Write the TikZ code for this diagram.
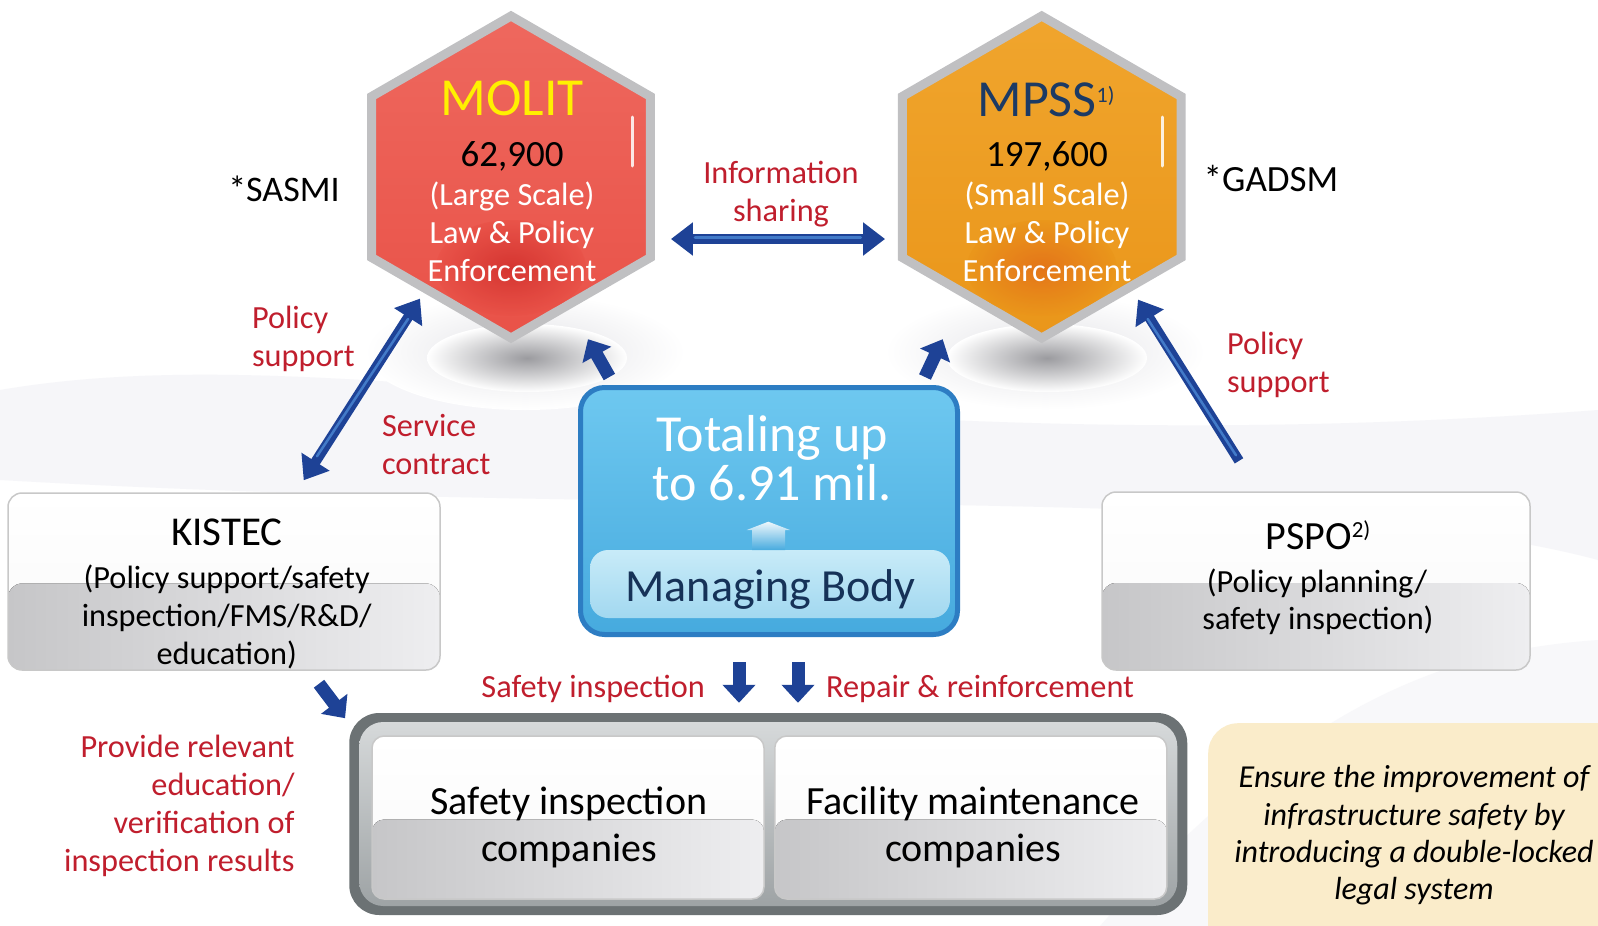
\documentclass[tikz,border=0pt]{standalone}
\usepackage{fontspec}
\setmainfont{Carlito}
\usetikzlibrary{arrows.meta,shapes.geometric,calc}

\definecolor{molitred}{RGB}{233,82,72}
\definecolor{molittop}{RGB}{238,104,94}
\definecolor{molitdark}{RGB}{208,45,42}
\definecolor{mpssorange}{RGB}{234,150,26}
\definecolor{mpsstop}{RGB}{240,165,45}
\definecolor{mpssdark}{RGB}{226,108,24}
\definecolor{hexgray}{RGB}{192,192,194}
\definecolor{molityellow}{RGB}{255,240,0}
\definecolor{mpssnavy}{RGB}{28,58,100}
\definecolor{labelred}{RGB}{192,30,45}
\definecolor{arrowblue}{RGB}{30,66,150}
\definecolor{arrowhl}{RGB}{66,122,200}
\definecolor{shadowgray}{RGB}{155,155,159}
\definecolor{shadowlight}{RGB}{226,226,230}
\definecolor{mbtop}{RGB}{110,200,240}
\definecolor{mbbot}{RGB}{70,170,222}
\definecolor{mbborder}{RGB}{45,125,195}
\definecolor{mbinnertop}{RGB}{200,235,248}
\definecolor{mbinnerbot}{RGB}{162,216,240}
\definecolor{mbnavy}{RGB}{22,50,88}
\definecolor{glassedge}{RGB}{200,200,200}
\definecolor{glassdark}{RGB}{198,198,200}
\definecolor{glasslight}{RGB}{238,238,240}
\definecolor{framedark}{RGB}{108,114,116}
\definecolor{frametop}{RGB}{214,217,218}
\definecolor{framebot}{RGB}{158,163,165}
\definecolor{noteyellow}{RGB}{250,236,202}
\definecolor{bgswoosh}{RGB}{236,236,242}

\pgfdeclareradialshading{hexshadow}{\pgfpoint{0bp}{0bp}}{color(0bp)=(shadowgray); color(25bp)=(white); color(50bp)=(white)}
\pgfdeclareradialshading{hexhalo}{\pgfpoint{0bp}{0bp}}{color(0bp)=(shadowlight); color(25bp)=(white); color(50bp)=(white)}
\pgfdeclareradialshading{redspot}{\pgfpoint{0bp}{0bp}}{color(0bp)=(molitdark); color(25bp)=(molitred); color(50bp)=(molitred)}
\pgfdeclareradialshading{orangespot}{\pgfpoint{0bp}{0bp}}{color(0bp)=(mpssdark); color(25bp)=(mpssorange); color(50bp)=(mpssorange)}

\newcommand\fsz[2]{\fontsize{#1}{#2}\selectfont}

\tikzset{
  txt/.style={anchor=base, inner sep=0pt, outer sep=0pt},
  lbl/.style={txt, text=labelred, font=\fsz{32.3}{38}},
  whitetxt/.style={txt, text=white, font=\fsz{32.3}{38}},
  blacktxt/.style={txt, text=black, font=\fsz{32.3}{38}},
  hexnode/.style={regular polygon, regular polygon sides=6, regular polygon rotate=30,
    minimum size=322pt, inner sep=0pt, draw=hexgray, line width=9pt},
  glass/.style={rectangle, rounded corners=14pt, draw=glassedge, line width=1.5pt,
    top color=white, bottom color=gray!5, inner sep=0pt,
    path picture={\fill[left color=glassdark, right color=glasslight]
      ([yshift=-2pt]path picture bounding box.west) rectangle (path picture bounding box.south east);}},
  bigarrow/.style={arrowblue, line width=10pt, -{Triangle[length=22pt,width=32pt]}},
  dblarrow/.style={arrowblue, line width=10pt, {Triangle[length=22pt,width=32pt]}-{Triangle[length=22pt,width=32pt]}},
  stubarrow/.style={arrowblue, line width=13pt, -{Triangle[length=18pt,width=32pt]}},
  shine/.style={arrowhl, line width=2.5pt, line cap=round},
}

\begin{document}
\begin{tikzpicture}[x=1pt,y=-1pt]
\useasboundingbox (0,0) rectangle (1598,926);
\clip (0,0) rectangle (1598,926);
\fill[white] (0,0) rectangle (1598,926);

% soft background swooshes
\fill[bgswoosh, opacity=0.45] (0,390) .. controls (350,330) and (800,470) .. (1598,410)
  -- (1598,560) .. controls (1300,480) and (700,520) .. (0,480) -- cycle;
\fill[bgswoosh, opacity=0.35] (1100,926) .. controls (1300,700) and (1450,650) .. (1598,640)
  -- (1598,926) -- cycle;

% shadows under hexagons
\shade[shading=hexhalo] (525,352) ellipse [x radius=160, y radius=58];
\shade[shading=hexshadow] (527,358) ellipse [x radius=100, y radius=34];
\shade[shading=hexhalo] (1045,352) ellipse [x radius=160, y radius=58];
\shade[shading=hexshadow] (1047,358) ellipse [x radius=100, y radius=34];

% hexagons
\node[hexnode, top color=molittop, bottom color=molitred] (molit) at (511,177) {};
\shade[shading=redspot, opacity=0.8] (511,268) ellipse [x radius=75, y radius=48];
\draw[white, opacity=0.85, line width=3pt, line cap=round] (632,117) -- (632,166);

\node[hexnode, top color=mpsstop, bottom color=mpssorange] (mpss) at (1041.7,177) {};
\shade[shading=orangespot, opacity=0.8] (1041.7,268) ellipse [x radius=75, y radius=48];
\draw[white, opacity=0.85, line width=3pt, line cap=round] (1162.5,117) -- (1162.5,166);

% hexagon texts
\node[txt, text=molityellow, font=\fsz{53.5}{60}] (molitname) at (512,115) {MOLIT};
\node[txt, font=\fsz{37}{42}] (molitnum) at (512,166.7) {62,900};
\node[whitetxt] (molitscale) at (512,205) {(Large Scale)};
\node[whitetxt] (molitlaw) at (512,243.3) {Law \& Policy};
\node[whitetxt] (molitenf) at (512,281.7) {Enforcement};

\node[txt, text=mpssnavy, font=\fsz{52}{60}] (mpssname) at (1046,116.7)
  {MPSS\raisebox{14pt}{\fsz{22}{24}1)}};
\node[txt, font=\fsz{37}{42}] (mpssnum) at (1047,166.7) {197,600};
\node[whitetxt] (mpssscale) at (1047,205) {(Small Scale)};
\node[whitetxt] (mpsslaw) at (1047,243.3) {Law \& Policy};
\node[whitetxt] (mpssenf) at (1047,281.7) {Enforcement};

\node[txt, font=\fsz{36}{42}] (sasmi) at (284,201.7) {*SASMI};
\node[txt, font=\fsz{37}{42}] (gadsm) at (1271,191.7) {*GADSM};

% information sharing
\node[lbl] (info1) at (781,183) {Information};
\node[lbl] (info2) at (781,221) {sharing};
\draw[dblarrow] ([shift={(16,62)}]molit.east) -- ([shift={(-12.7,62)}]mpss.west);
\draw[shine] ([shift={(40,60.5)}]molit.east) -- ([shift={(-37,60.5)}]mpss.west);

% managing body
\node[rectangle, rounded corners=24pt, draw=mbborder, line width=5pt,
  top color=mbtop, bottom color=mbbot, minimum width=377pt, minimum height=247pt,
  inner sep=0pt] (mb) at (769,511) {};
\node[rectangle, rounded corners=18pt, top color=mbinnertop, bottom color=mbinnerbot,
  minimum width=360pt, minimum height=68pt, inner sep=0pt] (mbinner) at (770,584) {};
\shade[top color=white, bottom color=mbbot, opacity=0.9]
  (768.3,521.7) -- (790,530) -- (785,530) -- (785,550) -- (752,550) -- (752,530) -- (746.7,530) -- cycle;
\node[txt, text=white, font=\fsz{52}{60}] (total1) at (772,451.5) {Totaling up};
\node[txt, text=white, font=\fsz{52}{60}] (total2) at (772,500) {to 6.91 mil.};
\node[txt, text=mbnavy, font=\fsz{46}{50}] (mbname) at (770.7,601.7) {Managing Body};

% small arrows to hexagons
\draw[stubarrow] ([shift={(31.4,-8)}]mb.north west) -- ([shift={(77,-4)}]molit.south);
\draw[stubarrow] ([shift={(-35,-8)}]mb.north east) -- ([shift={(-99,-4)}]mpss.south);

% KISTEC
\node[glass, minimum width=432pt, minimum height=177pt] (kistec) at (224,581.5) {};
\node[txt, font=\fsz{41}{45}] (kistecname) at (227,545) {KISTEC};
\node[blacktxt] (kistec1) at (226.7,588) {(Policy support/safety};
\node[blacktxt] (kistec2) at (226.7,626.5) {inspection/FMS/R\&D/};
\node[blacktxt] (kistec3) at (226.7,664) {education)};

% PSPO
\node[glass, minimum width=428pt, minimum height=178pt] (pspo) at (1316,581) {};
\node[txt, font=\fsz{40}{44}] (psponame) at (1318,549)
  {PSPO\raisebox{12pt}{\fsz{23}{24}2)}};
\node[blacktxt] (pspo1) at (1317,592) {(Policy planning/};
\node[blacktxt] (pspo2) at (1318,629.5) {safety inspection)};

% policy support arrows & labels
\draw[dblarrow] ([shift={(79.7,-12)}]kistec.north) -- ([shift={(-91,121.6)}]molit.center);
\draw[shine] ([shift={(93,-36)}]kistec.north) -- ([shift={(-103,142)}]molit.center);
\draw[bigarrow] ([shift={(-77,-30.4)}]pspo.north) -- ([shift={(96.3,122.6)}]mpss.center);
\draw[shine] ([shift={(-80,-36)}]pspo.north) -- ([shift={(106,142)}]mpss.center);

\node[lbl, anchor=base west] (ps1a) at (252,328) {Policy};
\node[lbl, anchor=base west] (ps1b) at (252,366) {support};
\node[lbl, anchor=base west] (sc1) at (382,436) {Service};
\node[lbl, anchor=base west] (sc2) at (382,474) {contract};
\node[lbl, anchor=base west] (ps2a) at (1227,354.5) {Policy};
\node[lbl, anchor=base west] (ps2b) at (1227,392.5) {support};

% bottom frame
\node[rectangle, rounded corners=30pt, fill=framedark, minimum width=838pt,
  minimum height=202pt, inner sep=0pt] (frame) at (768.25,814) {};
\node[rectangle, rounded corners=24pt, top color=frametop, bottom color=framebot,
  minimum width=818pt, minimum height=184pt, inner sep=0pt] (frameinner) at (768.25,814) {};
\node[glass, rounded corners=12pt, minimum width=392pt, minimum height=163pt] (sic) at (568,817.5) {};
\node[glass, rounded corners=12pt, minimum width=392pt, minimum height=163pt] (fmc) at (970.75,817.5) {};
\node[txt, font=\fsz{40}{46}] (sic1) at (569,814) {Safety inspection};
\node[txt, font=\fsz{40}{46}] (sic2) at (569,861) {companies};
\node[txt, font=\fsz{40}{46}] (fmc1) at (973,814) {Facility maintenance};
\node[txt, font=\fsz{40}{46}] (fmc2) at (973,861) {companies};

% down arrows and labels
\draw[stubarrow] ([shift={(-30,25)}]mb.south) -- ([shift={(-29.25,-10)}]frame.north);
\draw[stubarrow] ([shift={(29,25)}]mb.south) -- ([shift={(29.75,-10)}]frame.north);
\node[lbl, anchor=base east] (silbl) at (705,697) {Safety inspection};
\node[lbl, anchor=base west] (rrlbl) at (826,697) {Repair \& reinforcement};

% KISTEC to companies
\draw[stubarrow] ([shift={(95,13)}]kistec.south) -- ([shift={(-4,5.4)}]frame.north west);

\node[lbl, anchor=base east] (prov1) at (294.5,757) {Provide relevant};
\node[lbl, anchor=base east] (prov2) at (294.5,795) {education/};
\node[lbl, anchor=base east] (prov3) at (294.5,833) {verification of};
\node[lbl, anchor=base east] (prov4) at (294.5,871) {inspection results};

% yellow note
\node[rectangle, rounded corners=30pt, fill=noteyellow, minimum width=440pt,
  minimum height=250pt, inner sep=0pt, anchor=north west] (note) at (1208,723) {};
\node[blacktxt, font=\fsz{32}{37}\itshape] (note1) at (1414,787) {Ensure the improvement of};
\node[blacktxt, font=\fsz{32}{37}\itshape] (note2) at (1414,825) {infrastructure safety by};
\node[blacktxt, font=\fsz{32}{37}\itshape] (note3) at (1414,862) {introducing a double-locked};
\node[blacktxt, font=\fsz{32}{37}\itshape] (note4) at (1414,899) {legal system};
\end{tikzpicture}
\end{document}
